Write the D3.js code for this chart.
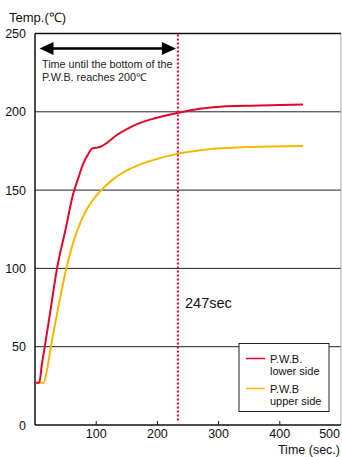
<!DOCTYPE html>
<html>
<head>
<meta charset="utf-8">
<script src="https://cdn.jsdelivr.net/npm/d3@7"></script>
<style>
  body { margin: 0; background: #fff; }
  svg { display: block; font-family: "Liberation Sans", Arial, sans-serif; }
</style>
</head>
<body>
<svg id="chart" width="342" height="457"></svg>
<script>
// data
const lowerTime = [0, 7, 11, 16, 26, 36, 50, 62, 71, 79, 87, 93, 100, 106, 117, 133, 150, 166, 188, 234, 269, 313, 367, 438];
const lowerTemp = [27, 27, 38, 50, 75, 100, 125, 147, 158, 167, 173, 176.5, 177, 177.5, 180, 185, 189, 192, 195, 199.4, 202, 203.6, 204, 204.7];
const upperTime = [0, 14, 20, 26, 38, 50, 62, 75, 85, 95, 106, 128, 155, 171, 188, 234, 280, 351, 438];
const upperTemp = [27, 27, 36, 50, 75, 98, 116, 130, 138, 144, 149, 157, 163.5, 166.3, 168.6, 173.3, 176, 177.5, 178.1];
const xTicks = [100, 200, 300, 400, 500];
const yTicks = [0, 50, 100, 150, 200, 250];
const markTime = 233.5;
const seriesNames = [["P.W.B.", "lower side"], ["P.W.B", "upper side"]];
const seriesColors = ["#e2062c", "#f5b700"];

const svg = d3.select("#chart");
const x = d3.scaleLinear().domain([0, 500]).range([35, 341]);
const y = d3.scaleLinear().domain([0, 250]).range([425, 33.5]);

// grid lines
svg.selectAll(".grid").data(yTicks.filter(d => d > 0 && d < 250)).join("line")
  .attr("x1", x(0)).attr("x2", x(500))
  .attr("y1", d => y(d)).attr("y2", d => y(d))
  .attr("stroke", "#222").attr("stroke-width", 1);

// frame
svg.append("line").attr("x1", x(500)).attr("x2", x(500)).attr("y1", y(250)).attr("y2", y(0))
  .attr("stroke", "#aaa").attr("stroke-width", 1);
svg.append("line").attr("x1", x(0)).attr("x2", x(500)).attr("y1", y(250)).attr("y2", y(250))
  .attr("stroke", "#111").attr("stroke-width", 1.5);
svg.append("line").attr("x1", x(0)).attr("x2", x(0)).attr("y1", y(250)).attr("y2", y(0))
  .attr("stroke", "#111").attr("stroke-width", 1.5);
svg.append("line").attr("x1", x(0)).attr("x2", x(500)).attr("y1", y(0)).attr("y2", y(0))
  .attr("stroke", "#111").attr("stroke-width", 1.5);

// x ticks (pointing inward)
svg.selectAll(".xt").data(xTicks.slice(0, -1)).join("line")
  .attr("x1", d => x(d)).attr("x2", d => x(d))
  .attr("y1", y(0)).attr("y2", y(0) - 4)
  .attr("stroke", "#111").attr("stroke-width", 1);

svg.selectAll(".xl").data(xTicks).join("text")
  .attr("x", d => d === 500 ? 340 : x(d))
  .attr("y", 438)
  .attr("text-anchor", d => d === 500 ? "end" : "middle")
  .attr("font-size", 12.5).attr("fill", "#111")
  .text(d => d);

svg.selectAll(".yl").data(yTicks).join("text")
  .attr("x", 26).attr("y", d => y(d) + 4.5)
  .attr("text-anchor", "end")
  .attr("font-size", 12.5).attr("fill", "#111")
  .text(d => d);

svg.append("text").attr("x", 9).attr("y", 21.5).attr("font-size", 13).attr("fill", "#111")
  .text("Temp.(℃)");
svg.append("text").attr("x", 340).attr("y", 454).attr("text-anchor", "end")
  .attr("font-size", 12.5).attr("fill", "#111").text("Time (sec.)");

// curves
const line = d3.line().x(d => x(d[0])).y(d => y(d[1])).curve(d3.curveMonotoneX);
const lower = lowerTime.map((t, i) => [t, lowerTemp[i]]);
const upper = upperTime.map((t, i) => [t, upperTemp[i]]);
svg.append("path").datum(upper).attr("d", line)
  .attr("fill", "none").attr("stroke", seriesColors[1]).attr("stroke-width", 2);
svg.append("path").datum(lower).attr("d", line)
  .attr("fill", "none").attr("stroke", seriesColors[0]).attr("stroke-width", 2);

// 200°C marker
svg.append("line").attr("x1", x(markTime)).attr("x2", x(markTime))
  .attr("y1", y(250) + 1).attr("y2", y(0) - 3)
  .attr("stroke", seriesColors[0]).attr("stroke-width", 2).attr("stroke-dasharray", "2,2");

// double arrow
const ay = 48.5, ax0 = x(0) + 4.5, ax1 = x(markTime) - 2, hl = 14, hh = 6.5;
svg.append("line").attr("x1", ax0 + hl - 2).attr("x2", ax1 - hl + 2).attr("y1", ay).attr("y2", ay)
  .attr("stroke", "#000").attr("stroke-width", 2.5);
svg.append("path").attr("d", `M${ax0},${ay}L${ax0 + hl},${ay - hh}L${ax0 + hl},${ay + hh}Z`).attr("fill", "#000");
svg.append("path").attr("d", `M${ax1},${ay}L${ax1 - hl},${ay - hh}L${ax1 - hl},${ay + hh}Z`).attr("fill", "#000");
svg.append("text").attr("x", 42).attr("y", 67.5).attr("font-size", 10.8).attr("fill", "#222")
  .text("Time until the bottom of the");
svg.append("text").attr("x", 42).attr("y", 81).attr("font-size", 10.8).attr("fill", "#222")
  .text("P.W.B. reaches 200℃");

svg.append("text").attr("x", 185).attr("y", 308).attr("font-size", 14.5).attr("fill", "#111")
  .text("247sec");

// legend
const lg = svg.append("g");
lg.append("rect").attr("x", 239).attr("y", 343.5).attr("width", 90).attr("height", 68)
  .attr("fill", "#fff").attr("stroke", "#222").attr("stroke-width", 1);
seriesNames.forEach((nm, i) => {
  const by = 358.5 + i * 30;
  lg.append("line").attr("x1", 246).attr("x2", 265).attr("y1", by).attr("y2", by)
    .attr("stroke", seriesColors[i]).attr("stroke-width", 1.5);
  lg.append("text").attr("x", 270).attr("y", by + 4).attr("font-size", 11).attr("fill", "#111").text(nm[0]);
  lg.append("text").attr("x", 270).attr("y", by + 16).attr("font-size", 11).attr("fill", "#111").text(nm[1]);
});
</script>
</body>
</html>
